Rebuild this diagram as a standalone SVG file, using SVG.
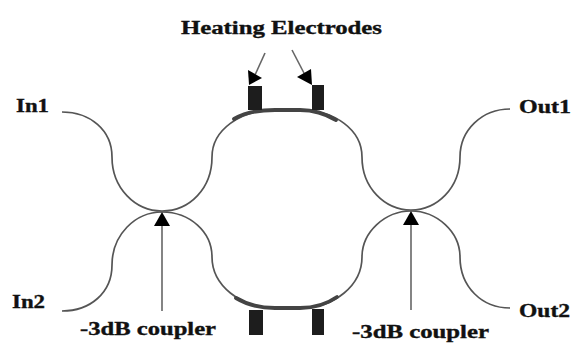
<svg xmlns="http://www.w3.org/2000/svg" width="572" height="343" viewBox="0 0 572 343">
<defs>
<style>
text{font-family:"Liberation Serif","DejaVu Serif",serif;font-weight:bold;font-size:18px;fill:#111;stroke:#111;stroke-width:.35}
.wg{fill:none;stroke:#555;stroke-width:1.7}
.heat{fill:none;stroke:#444;stroke-width:3.8;stroke-linecap:round}
.el{fill:#1d1d1d}
.ar{fill:none;stroke:#666;stroke-width:1.6}
.hd{fill:#000}
</style>
</defs>
<rect width="572" height="343" fill="#fff"/>
<g id="connectors">
<path class="wg" d="M62 112C90 112 112 130 112 157C112 188 135 211 162 211C190 211 212 188 212 157C212 130 240 110 275 110L300 110C335 110 362 130 362 157C362 188 385 210 411 210C437 210 460 188 460 157C460 130 482 109 510 109"/>
<path class="wg" d="M62 311C90 311 112 293 112 265C112 235 135 212 162 212C190 212 212 232 212 257C212 285 240 308 275 308L300 308C335 308 362 285 362 257C362 232 385 211 411 211C437 211 460 232 460 257C460 287 482 308 510 308"/>
<path class="heat" d="M234 119C244 113 258 110 275 110L300 110C315 110 326 114 336 120"/>
<path class="heat" d="M236 298C246 304 258 308 275 308L300 308C315 308 327 304 337 297"/>
<path class="ar" d="M265 53L255 75"/>
<path class="ar" d="M292 50L305 75"/>
<path class="ar" d="M162 311V222"/>
<path class="ar" d="M411 310V221"/>
<polygon class="hd" points="248,70 262,78 249,85"/>
<polygon class="hd" points="311,69 297,77 312,85"/>
<polygon class="hd" points="162,212 170,226 154,226"/>
<polygon class="hd" points="411,211 419,225 403,225"/>
</g>
<g id="electrode-top-left"><rect class="el" x="248" y="86" width="14" height="24"/></g>
<g id="electrode-top-right"><rect class="el" x="312" y="85" width="12" height="25"/></g>
<g id="electrode-bottom-left"><rect class="el" x="249" y="310" width="14" height="25"/></g>
<g id="electrode-bottom-right"><rect class="el" x="312" y="309" width="12" height="26"/></g>
<g id="label-heating"><text x="181" y="34" textLength="201" lengthAdjust="spacingAndGlyphs">Heating Electrodes</text></g>
<g id="label-in1"><text x="16" y="112" textLength="33" lengthAdjust="spacingAndGlyphs">In1</text></g>
<g id="label-in2"><text x="12" y="308" textLength="33" lengthAdjust="spacingAndGlyphs">In2</text></g>
<g id="label-out1"><text x="519" y="113" textLength="52" lengthAdjust="spacingAndGlyphs">Out1</text></g>
<g id="label-out2"><text x="519" y="317" textLength="51" lengthAdjust="spacingAndGlyphs">Out2</text></g>
<g id="label-coupler-left"><text x="80" y="335" textLength="136" lengthAdjust="spacingAndGlyphs">-3dB coupler</text></g>
<g id="label-coupler-right"><text x="352" y="338" textLength="137" lengthAdjust="spacingAndGlyphs">-3dB coupler</text></g>
</svg>
